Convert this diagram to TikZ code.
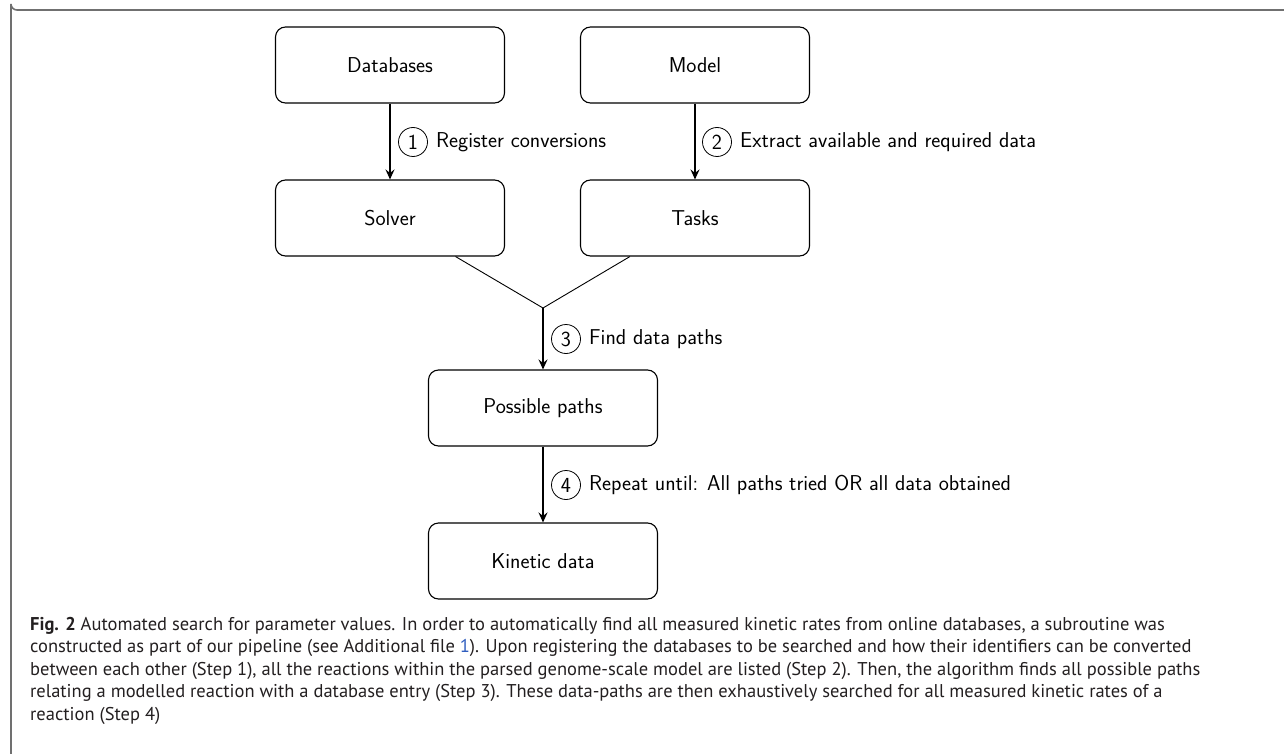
\documentclass[tikz,border=0pt]{standalone}
\usepackage{fontspec}
\newfontfamily\capfont{PT Sans}
\usetikzlibrary{arrows.meta,calc}
\definecolor{framegray}{HTML}{707070}
\definecolor{linkblue}{HTML}{2F5DBE}
\definecolor{captext}{HTML}{231F20}
\begin{document}
\begin{tikzpicture}[x=1pt,y=-1pt,
  diagfont/.style={font=\sffamily\fontsize{21.5}{25}\selectfont},
  stagebox/.style={draw, line width=1.1pt, rounded corners=10pt, minimum width=229pt, minimum height=76pt, diagfont},
  flowarrow/.style={line width=1.7pt, -{Stealth[length=10pt,width=9pt,inset=3.5pt]}},
  joinline/.style={line width=0.9pt},
  stepnum/.style={draw, circle, line width=0.8pt, minimum size=29pt, inner sep=0pt, diagfont},
  steptext/.style={anchor=west, inner sep=0pt, diagfont},
  capline/.style={anchor=base west, inner sep=0pt, text=captext, font=\capfont\fontsize{18.5}{22.5}\selectfont}
]
\useasboundingbox (0,0) rectangle (1284,754);
% frame
\draw[framegray, line width=1.6pt] (1290,10) -- (17,10) arc[start angle=90,end angle=180,radius=6] -- (11,760);

\node[stagebox] (db) at (390,65) {Databases};
\node[stagebox] (model) at (695,65) {Model};
\node[stagebox] (solver) at (390,218) {Solver};
\node[stagebox] (tasks) at (695,218) {Tasks};
\coordinate (merge) at (543,308);
\node[stagebox] (paths) at (543,408) {Possible paths};
\node[stagebox] (kin) at (543,561) {Kinetic data};

\draw[flowarrow] (db) -- (solver);
\draw[flowarrow] (model) -- (tasks);
\draw[joinline] (solver) -- (merge);
\draw[joinline] (tasks) -- (merge);
\draw[flowarrow] (merge) -- (paths);
\draw[flowarrow] (paths) -- (kin);

\node[stepnum] (n1) at (413,142) {1};
\node[steptext] (t1) at (436,142) {Register conversions};
\node[stepnum] (n2) at (717,142) {2};
\node[steptext] (t2) at (740,142) {Extract available and required data};
\node[stepnum] (n3) at (566,339) {3};
\node[steptext] (t3) at (589,339) {Find data paths};
\node[stepnum] (n4) at (566,485) {4};
\node[steptext] (t4) at (589,485) {Repeat until: All paths tried OR all data obtained};

\node[capline] (cap1) at (30,630) {\textbf{Fig. 2} Automated search for parameter values. In order to automatically find all measured kinetic rates from online databases, a subroutine was};
\node[capline] (cap2) at (30,652.5) {constructed as part of our pipeline (see Additional file \textcolor{linkblue}{1}). Upon registering the databases to be searched and how their identifiers can be converted};
\node[capline] (cap3) at (30,675) {between each other (Step 1), all the reactions within the parsed genome-scale model are listed (Step 2). Then, the algorithm finds all possible paths};
\node[capline] (cap4) at (30,697.5) {relating a modelled reaction with a database entry (Step 3). These data-paths are then exhaustively searched for all measured kinetic rates of a};
\node[capline] (cap5) at (30,720) {reaction (Step 4)};
\end{tikzpicture}
\end{document}
